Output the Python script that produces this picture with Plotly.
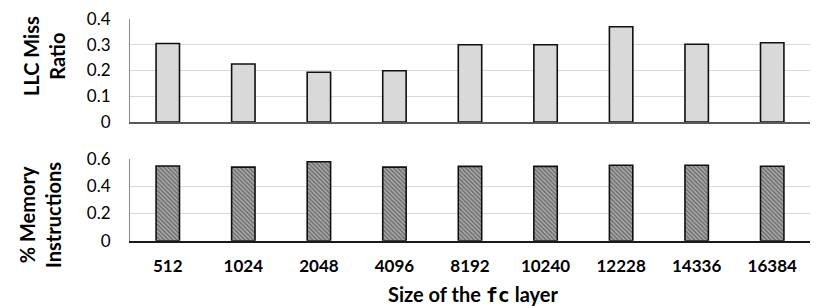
import plotly.graph_objects as go

categories = ["512", "1024", "2048", "4096", "8192", "10240", "12228", "14336", "16384"]
llc_miss_ratio = [0.305, 0.225, 0.193, 0.199, 0.300, 0.300, 0.370, 0.302, 0.308]
mem_instr = [0.549, 0.540, 0.580, 0.540, 0.546, 0.546, 0.554, 0.554, 0.547]
top_ticks = [0, 0.1, 0.2, 0.3, 0.4]
bottom_ticks = [0, 0.2, 0.4, 0.6]

FONT = "Lato"
# page body has an 8px margin; figure sized so it ends at the window edge
OFF = 8
W, H = 830 - OFF, 308 - OFF


def px_x(x):
    return (x - OFF) / W


def px_y(y):
    return 1 - (y - OFF) / H


fig = go.Figure()
fig.add_trace(go.Bar(
    x=categories, y=llc_miss_ratio, xaxis="x", yaxis="y",
    marker=dict(color="#d9d9d9", line=dict(color="#111111", width=1.6)),
    width=0.31, showlegend=False,
))
fig.add_trace(go.Bar(
    x=categories, y=mem_instr, xaxis="x2", yaxis="y2",
    marker=dict(color="#a6a6a6", line=dict(color="#111111", width=1.6),
                pattern=dict(shape="\\", fgcolor="#333333", bgcolor="#aaaaaa",
                             size=3, solidity=0.5)),
    width=0.31, showlegend=False,
))

xdom = [px_x(130), px_x(810)]
fig.update_layout(
    width=W, height=H,
    margin=dict(l=0, r=0, t=0, b=0),
    plot_bgcolor="white", paper_bgcolor="white",
    font=dict(family=FONT, size=17, color="#000000"),
    xaxis=dict(domain=xdom, anchor="y", showticklabels=False, ticks="",
               showline=True, linecolor="#595959", linewidth=1.5,
               range=[-0.5, 8.5], automargin=False),
    yaxis=dict(domain=[px_y(122), px_y(19)], anchor="x",
               range=[0, 0.4], tickvals=top_ticks,
               ticktext=["0", "0.1", "0.2", "0.3", "0.4"],
               showgrid=True, gridcolor="#d9d9d9", gridwidth=1,
               showline=True, linecolor="#8c8c8c", linewidth=1,
               zeroline=False, ticks="", ticklabelstandoff=15,
               ticklabeloverflow="allow",
               automargin=False, tickfont=dict(family=FONT, size=17)),
    xaxis2=dict(domain=xdom, anchor="y2", ticks="",
                showline=True, linecolor="#1a1a1a", linewidth=1.5,
                range=[-0.5, 8.5], ticklabelstandoff=9, automargin=False,
                ticklabeloverflow="allow",
                tickfont=dict(family=FONT, size=17, weight="bold")),
    yaxis2=dict(domain=[px_y(240.7), px_y(159)], anchor="x2",
                range=[0, 0.6], tickvals=bottom_ticks,
                ticktext=["0", "0.2", "0.4", "0.6"],
                showgrid=True, gridcolor="#d9d9d9", gridwidth=1,
                showline=True, linecolor="#8c8c8c", linewidth=1,
                zeroline=False, ticks="", ticklabelstandoff=15,
                ticklabeloverflow="allow",
                automargin=False, tickfont=dict(family=FONT, size=17)),
    annotations=[
        dict(text="LLC Miss<br>Ratio", textangle=-90, xref="paper", yref="paper",
             x=px_x(44), y=px_y(56), showarrow=False,
             font=dict(family=FONT, size=20, weight="bold"),
             xanchor="center", yanchor="middle"),
        dict(text="% Memory<br>Instructions", textangle=-90, xref="paper", yref="paper",
             x=px_x(40), y=px_y(215), showarrow=False,
             font=dict(family=FONT, size=20, weight="bold"),
             xanchor="center", yanchor="middle"),
        dict(text="Size of the <span style='font-family:DejaVu Sans Mono'>fc</span> layer",
             xref="paper", yref="paper", x=px_x(473), y=px_y(294),
             showarrow=False, font=dict(family=FONT, size=20, weight="bold"),
             xanchor="center", yanchor="middle"),
    ],
)
fig.write_html("out.html")
